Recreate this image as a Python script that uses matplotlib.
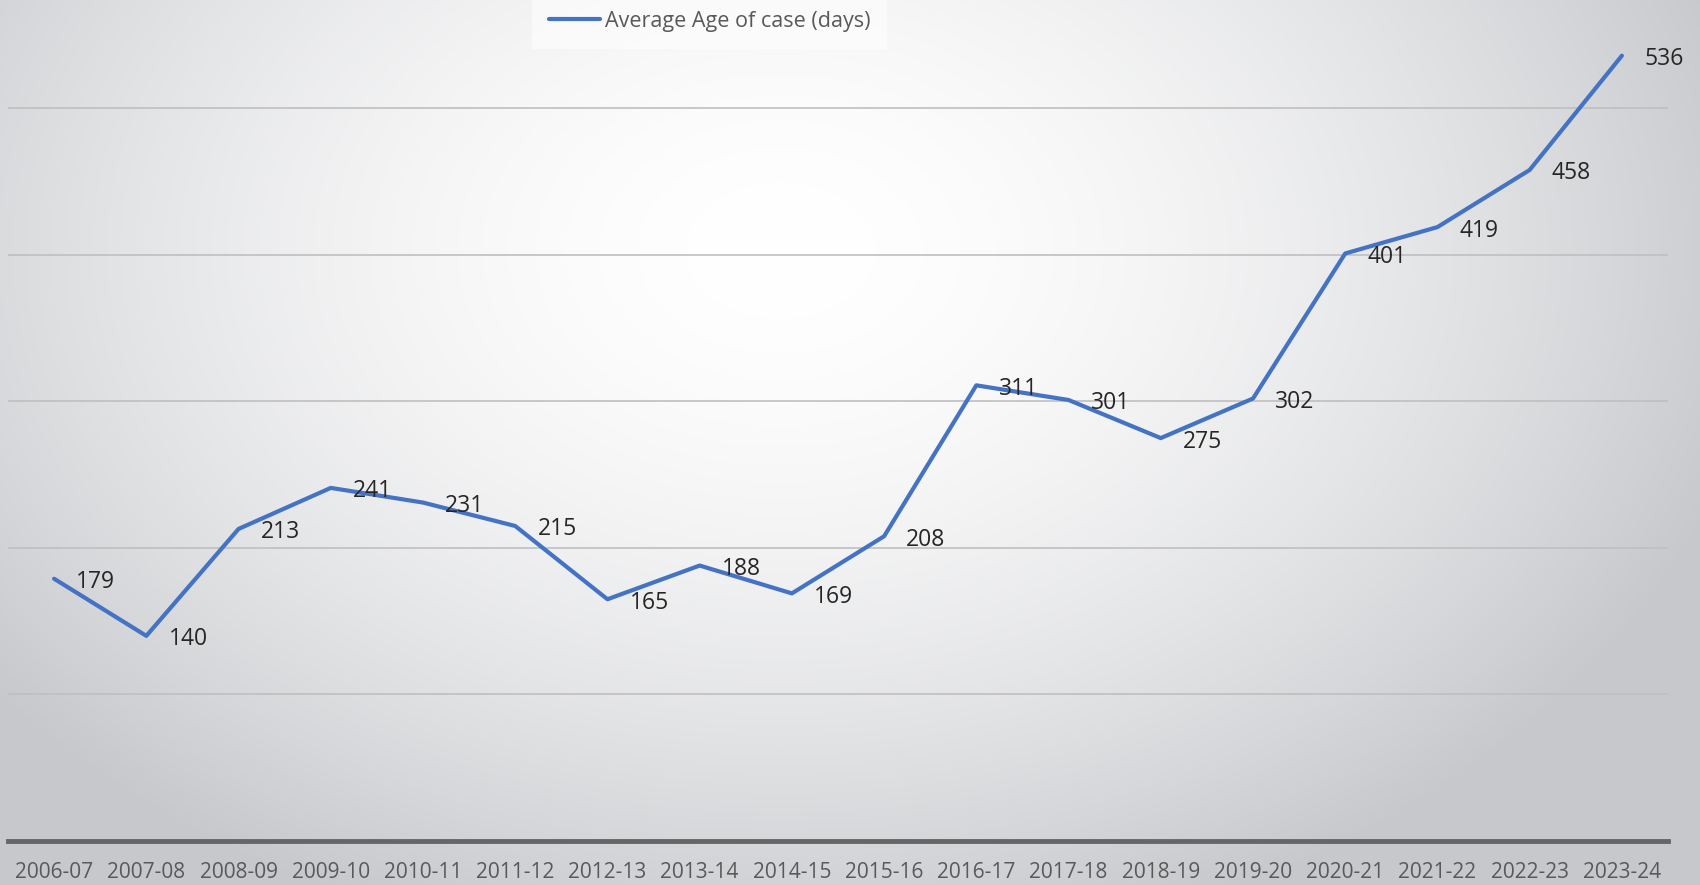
import numpy as np
import matplotlib.pyplot as plt

years = ['2006-07', '2007-08', '2008-09', '2009-10', '2010-11', '2011-12',
         '2012-13', '2013-14', '2014-15', '2015-16', '2016-17', '2017-18',
         '2018-19', '2019-20', '2020-21', '2021-22', '2022-23', '2023-24']
avg_age = [179, 140, 213, 241, 231, 215, 165, 188, 169, 208,
           311, 301, 275, 302, 401, 419, 458, 536]

plt.rcParams['font.family'] = ['Open Sans', 'DejaVu Sans']

W, H = 1700, 885
fig = plt.figure(figsize=(W / 100, H / 100), dpi=100)

# radial grey-to-white background
bg = fig.add_axes([0, 0, 1, 1])
yy, xx = np.mgrid[0:H, 0:W]
r = np.sqrt(((xx - 780) / 1000) ** 2 + ((yy - 250) / 720) ** 2)
r = np.clip(r, 0, 1)
edge = np.array([0.78, 0.785, 0.80])
img = 1 - (1 - edge) * r[..., None] ** 1.7
bg.imshow(img, aspect='auto', extent=[0, 1, 0, 1], origin='upper')
bg.axis('off')

ax = fig.add_axes([8 / W, (H - 841) / H, 1660 / W, 841 / H])
ax.set_facecolor('none')
x = np.arange(len(years))
line, = ax.plot(x, avg_age, color='#4472C4', lw=3, solid_capstyle='round',
                solid_joinstyle='round', label='Average Age of case (days)', zorder=3)

for xi, v in zip(x, avg_age):
    ax.annotate(str(v), (xi, v), xytext=(16, -2.5), textcoords='offset points',
                ha='left', va='center', fontsize=16.5, color='#262626', zorder=4)

ax.set_xlim(-0.5, len(years) - 0.5)
ax.set_ylim(0, 574)
ax.set_yticks([100, 200, 300, 400, 500])
ax.grid(axis='y', color='#BFBFBF', lw=1.2)
ax.set_axisbelow(True)
ax.tick_params(axis='y', left=False, labelleft=False)
ax.set_xticks(x)
ax.set_xticklabels(years, fontsize=15, color='#595959')
ax.tick_params(axis='x', length=0, pad=15)
for s in ['top', 'right', 'left']:
    ax.spines[s].set_visible(False)
ax.spines['bottom'].set_color('#666666')
ax.spines['bottom'].set_linewidth(3.5)

leg = fig.legend(handles=[line], loc='upper left', bbox_to_anchor=(538 / W, 1.0),
                 fontsize=15.5, frameon=True, handlelength=2.4, handletextpad=0.2,
                 borderpad=0.5, borderaxespad=0)
leg.get_frame().set_facecolor('white')
leg.get_frame().set_alpha(0.55)
leg.get_frame().set_edgecolor('none')
leg.get_frame().set_boxstyle('square')
for t in leg.get_texts():
    t.set_color('#595959')

fig.savefig('out.png', dpi=100)
